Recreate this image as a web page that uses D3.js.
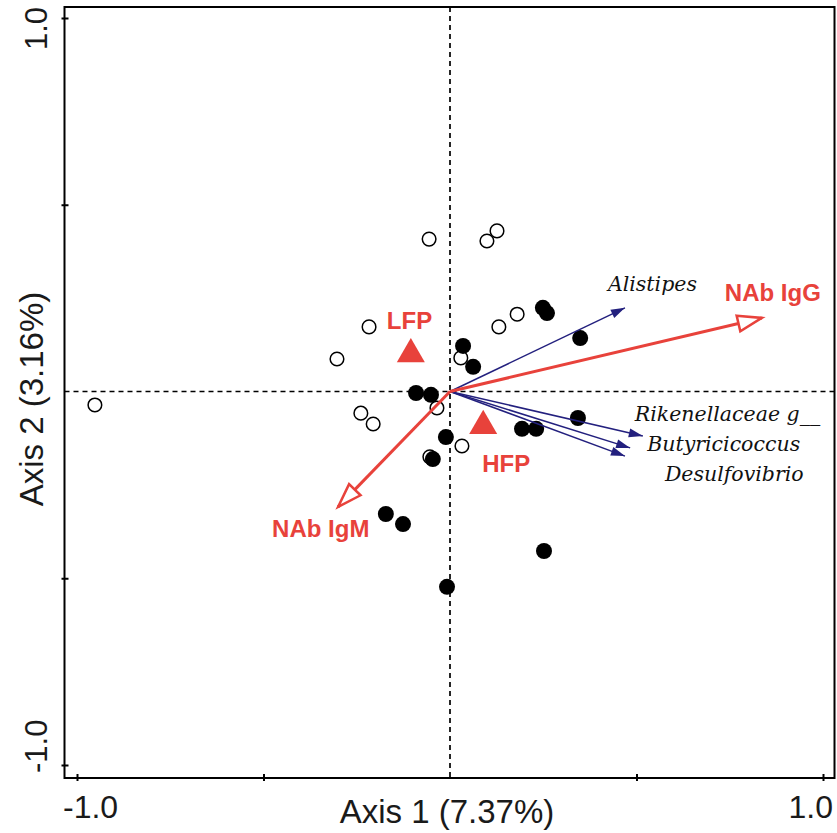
<!DOCTYPE html>
<html>
<head>
<meta charset="utf-8">
<script src="https://cdn.jsdelivr.net/npm/d3@7"></script>
<style>
  html, body { margin: 0; padding: 0; background: #fff; }
  svg { display: block; }
</style>
</head>
<body>
<svg id="chart" width="837" height="833"></svg>
<script>
// ---- Data ----
// Samples (Axis 1, Axis 2)
const filledX = [0.249, 0.260, 0.349, 0.035, 0.062, -0.091, -0.051, 0.343, 0.193, 0.231, -0.011, -0.046, -0.172, -0.126, 0.252, -0.008];
const filledY = [0.224, 0.210, 0.143, 0.122, 0.066, -0.004, -0.009, -0.071, -0.100, -0.100, -0.122, -0.181, -0.328, -0.355, -0.427, -0.523];
const openX = [-0.056, 0.099, 0.126, 0.180, 0.131, -0.217, -0.303, 0.029, -0.035, -0.239, -0.206, 0.032, -0.054, -0.952];
const openY = [0.408, 0.403, 0.430, 0.207, 0.173, 0.173, 0.087, 0.090, -0.044, -0.058, -0.087, -0.146, -0.175, -0.036];

// Group centroids
const groupNames = ["LFP", "HFP"];
const groupX = [-0.105, 0.089];
const groupY = [0.100, -0.092];

// Environmental vectors (red)
const envNames = ["NAb IgG", "NAb IgM"];
const envX = [0.836, -0.300];
const envY = [0.197, -0.309];

// Taxa vectors (blue)
const taxaNames = ["Alistipes", "Rikenellaceae g__", "Butyricicoccus", "Desulfovibrio"];
const taxaX = [0.469, 0.517, 0.483, 0.469];
const taxaY = [0.224, -0.119, -0.151, -0.173];

const tickValues = [-1, -0.5, 0.5, 1];
const tickLabels = ["-1.0", "1.0"];
const xTitle = "Axis 1 (7.37%)";
const yTitle = "Axis 2 (3.16%)";

// ---- Layout ----
const RED = "#e8423b";
const NAVY = "#23207e";
const svg = d3.select("#chart");
const x = d3.scaleLinear().domain([-1, 1]).range([77, 823]);
const y = d3.scaleLinear().domain([-1, 1]).range([765, 18]);
const frame = {left: 64.5, right: 834.5, top: 7, bottom: 778};

// markers
const defs = svg.append("defs");
defs.append("marker").attr("id", "redHead")
  .attr("markerUnits", "userSpaceOnUse")
  .attr("viewBox", "-3 -12 32 24").attr("markerWidth", 32).attr("markerHeight", 24)
  .attr("refX", 24).attr("refY", 0).attr("orient", "auto")
  .append("path").attr("d", "M0,-8L24,0L0,8Z")
  .attr("fill", "#fff").attr("stroke", RED).attr("stroke-width", 2.5).attr("stroke-linejoin", "miter");
defs.append("marker").attr("id", "blueHead")
  .attr("markerUnits", "userSpaceOnUse")
  .attr("viewBox", "-1 -6 17 12").attr("markerWidth", 17).attr("markerHeight", 12)
  .attr("refX", 14).attr("refY", 0).attr("orient", "auto")
  .append("path").attr("d", "M0,-4.5L14,0L0,4.5Z").attr("fill", NAVY);

// dashed zero lines
svg.append("line").attr("x1", frame.left).attr("x2", frame.right)
  .attr("y1", y(0)).attr("y2", y(0))
  .attr("stroke", "#000").attr("stroke-width", 1.7).attr("stroke-dasharray", "5,4");
svg.append("line").attr("y1", frame.top).attr("y2", frame.bottom)
  .attr("x1", x(0)).attr("x2", x(0))
  .attr("stroke", "#000").attr("stroke-width", 1.7).attr("stroke-dasharray", "5,4");

// frame
svg.append("rect").attr("x", frame.left).attr("y", frame.top)
  .attr("width", frame.right - frame.left).attr("height", frame.bottom - frame.top)
  .attr("fill", "none").attr("stroke", "#000").attr("stroke-width", 2);

// axes ticks
const gx = svg.append("g").attr("transform", `translate(0,${frame.bottom})`)
  .call(d3.axisBottom(x).tickValues(tickValues).tickSize(3).tickFormat(""));
gx.select(".domain").remove();
gx.selectAll(".tick line").attr("y1", -4).attr("stroke-width", 2);
const gy = svg.append("g").attr("transform", `translate(${frame.left},0)`)
  .call(d3.axisLeft(y).tickValues(tickValues).tickSize(3).tickFormat(""));
gy.select(".domain").remove();
gy.selectAll(".tick line").attr("x1", 4).attr("stroke-width", 2);

// tick labels
const tickFont = "'Liberation Sans', Arial, sans-serif";
svg.append("text").attr("x", x(-1) - 14).attr("y", 818).attr("text-anchor", "start")
  .attr("font-family", tickFont).attr("font-size", 32).attr("fill", "#1a1a1a").text(tickLabels[0]);
svg.append("text").attr("x", x(1) + 10).attr("y", 818).attr("text-anchor", "end")
  .attr("font-family", tickFont).attr("font-size", 32).attr("fill", "#1a1a1a").text(tickLabels[1]);
svg.append("text").attr("transform", `translate(47,${y(1) + 32}) rotate(-90)`).attr("text-anchor", "start")
  .attr("font-family", tickFont).attr("font-size", 31).attr("fill", "#1a1a1a").text(tickLabels[1]);
svg.append("text").attr("transform", `translate(47,${y(-1) + 8}) rotate(-90)`).attr("text-anchor", "start")
  .attr("font-family", tickFont).attr("font-size", 31).attr("fill", "#1a1a1a").text(tickLabels[0]);

// axis titles
svg.append("text").attr("x", 447).attr("y", 823).attr("text-anchor", "middle")
  .attr("font-family", tickFont).attr("font-size", 33).attr("fill", "#1a1a1a").text(xTitle);
svg.append("text").attr("transform", "translate(43,399) rotate(-90)").attr("text-anchor", "middle")
  .attr("font-family", tickFont).attr("font-size", 33).attr("fill", "#1a1a1a").text(yTitle);

// points
const filled = filledX.map((v, i) => ({x: v, y: filledY[i]}));
const open = openX.map((v, i) => ({x: v, y: openY[i]}));
svg.append("g").selectAll("circle").data(open).join("circle")
  .attr("cx", d => x(d.x)).attr("cy", d => y(d.y)).attr("r", 6.8)
  .attr("fill", "#fff").attr("stroke", "#000").attr("stroke-width", 1.5);
svg.append("g").selectAll("circle").data(filled).join("circle")
  .attr("cx", d => x(d.x)).attr("cy", d => y(d.y)).attr("r", 8)
  .attr("fill", "#000");

// taxa arrows
const taxa = taxaNames.map((n, i) => ({name: n, x: taxaX[i], y: taxaY[i]}));
svg.append("g").selectAll("line").data(taxa).join("line")
  .attr("x1", x(0)).attr("y1", y(0)).attr("x2", d => x(d.x)).attr("y2", d => y(d.y))
  .attr("stroke", NAVY).attr("stroke-width", 1.5).attr("marker-end", "url(#blueHead)");

// env arrows
const env = envNames.map((n, i) => ({name: n, x: envX[i], y: envY[i]}));
svg.append("g").selectAll("line").data(env).join("line")
  .attr("x1", x(0)).attr("y1", y(0)).attr("x2", d => x(d.x)).attr("y2", d => y(d.y))
  .attr("stroke", RED).attr("stroke-width", 3).attr("marker-end", "url(#redHead)");

// group triangles
const groups = groupNames.map((n, i) => ({name: n, x: groupX[i], y: groupY[i]}));
svg.append("g").selectAll("path").data(groups).join("path")
  .attr("transform", d => `translate(${x(d.x)},${y(d.y)})`)
  .attr("d", d3.symbol(d3.symbolTriangle, 340)())
  .attr("fill", RED);

// labels
const labelOffset = {
  "Alistipes": [-17, -17],
  "Rikenellaceae g__": [-8, -15],
  "Butyricicoccus": [17, 3],
  "Desulfovibrio": [40, 25],
  "NAb IgG": [-37, -17],
  "NAb IgM": [-66, 30],
  "LFP": [-24, -25],
  "HFP": [-1, 46]
};
const taxaFont = "'DejaVu Serif', 'Liberation Serif', serif";
svg.append("g").selectAll("text").data(taxa).join("text")
  .attr("x", d => x(d.x) + labelOffset[d.name][0])
  .attr("y", d => y(d.y) + labelOffset[d.name][1])
  .attr("font-family", taxaFont).attr("font-style", "italic").attr("font-size", 20.5)
  .attr("fill", "#111").text(d => d.name);
svg.append("g").selectAll("text").data(env.concat(groups)).join("text")
  .attr("x", d => x(d.x) + labelOffset[d.name][0])
  .attr("y", d => y(d.y) + labelOffset[d.name][1])
  .attr("font-family", tickFont).attr("font-weight", "bold").attr("font-size", 24)
  .attr("fill", RED).text(d => d.name);
</script>
</body>
</html>
